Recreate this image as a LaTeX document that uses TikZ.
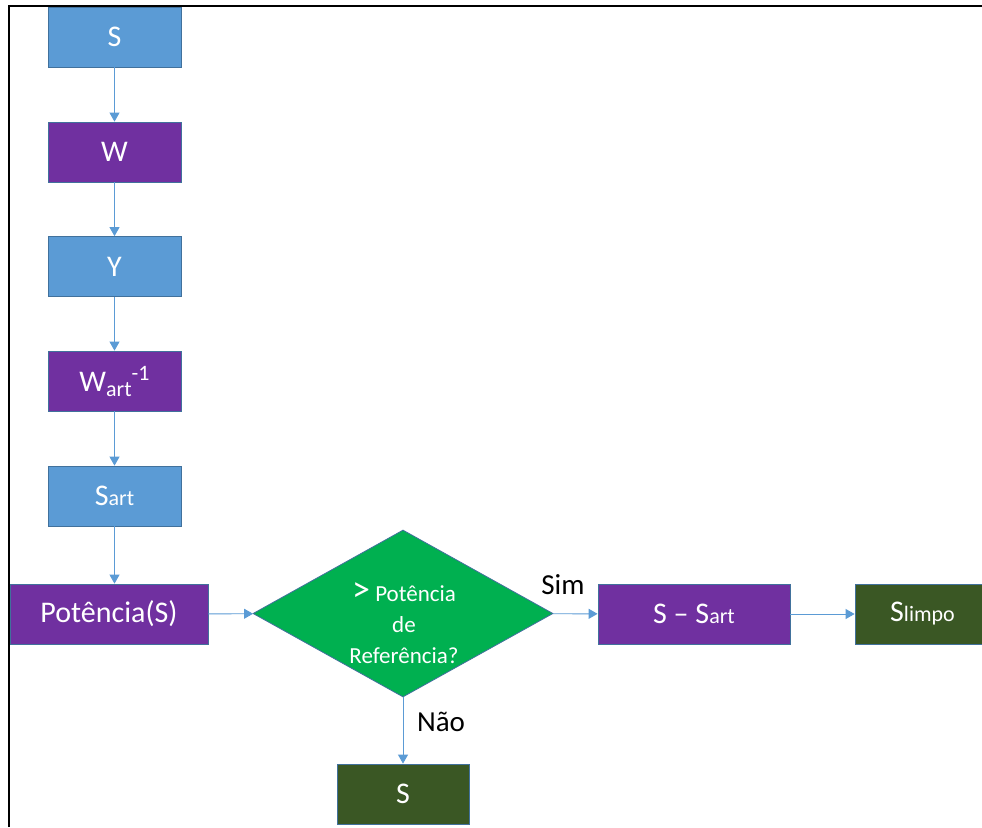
\documentclass[tikz,border=0pt]{standalone}
\usepackage{fontspec}
\setmainfont{Carlito}
\usetikzlibrary{arrows.meta,shapes.geometric}
\definecolor{cblue}{HTML}{5B9BD5}
\definecolor{cborder}{HTML}{41719C}
\definecolor{cpurple}{HTML}{7030A0}
\definecolor{cgreen}{HTML}{00B050}
\definecolor{cdark}{HTML}{3A5724}
\newcommand{\bigf}{\fontsize{30}{32}\selectfont}
\newcommand{\smf}{\fontsize{22}{24}\selectfont}
\begin{document}
\begin{tikzpicture}[x=1pt,y=-1pt,
  box/.style={rectangle, draw=cborder, line width=0.8pt, minimum height=60pt,
    inner sep=0pt, text=white, font=\bigf},
  colbox/.style={box, minimum width=133pt},
  conn/.style={draw=cblue, line width=0.9pt, -{Triangle[width=10pt,length=9pt]}},
  lab/.style={font=\fontsize{29}{30}\selectfont, text=black, inner sep=0pt}]
\useasboundingbox (0,0) rectangle (982,827);
\fill[white] (0,0) rectangle (982,827);
% frame
\draw[black, line width=2pt] (9,827) -- (9,6) -- (982,6);
% column
\node[colbox, fill=cblue] (s1) at (114.5,37) {S};
\node[colbox, fill=cpurple] (w) at (114.5,152) {W};
\node[colbox, fill=cblue] (y) at (114.5,266.5) {Y};
\node[colbox, fill=cpurple] (wi) at (114.5,381) {W\raisebox{-5pt}{\smf art}\raisebox{11pt}{\smf -1}};
\node[colbox, fill=cblue] (sart) at (114.5,496) {S{\smf art}};
\node[box, fill=cpurple, minimum width=198pt] (pot) at (109,614) {Potência(S)};
\node[diamond, draw=cborder, line width=0.8pt, fill=cgreen, minimum width=300pt,
  minimum height=167pt, inner sep=0pt] (dec) at (403,613.5) {};
\node[text=white, align=center, font=\fontsize{23}{31}\selectfont, inner sep=0pt]
  (dtext) at (404,623) {{\fontsize{36}{31}\selectfont >} Potência\\de\\Referência?};
\node[box, fill=cpurple, minimum width=192pt] (sub) at (694,614) {S – S{\smf art}};
\node[box, fill=cdark, minimum width=135pt] (slim) at (922.5,614) {S{\smf limpo}};
\node[box, fill=cdark, minimum width=132pt] (s2) at (403,794) {S};
% labels
\node[lab] (sim) at (563,585) {Sim};
\node[lab] (nao) at (441,722) {Não};
% connectors
\draw[conn] (s1) -- (w);
\draw[conn] (w) -- (y);
\draw[conn] (y) -- (wi);
\draw[conn] (wi) -- (sart);
\draw[conn] (sart.south) -- (sart.south |- pot.north);
\draw[conn] (pot) -- (dec);
\draw[conn] (dec) -- (sub);
\draw[conn] (sub) -- (slim);
\draw[conn] (dec) -- (s2);
\end{tikzpicture}
\end{document}
